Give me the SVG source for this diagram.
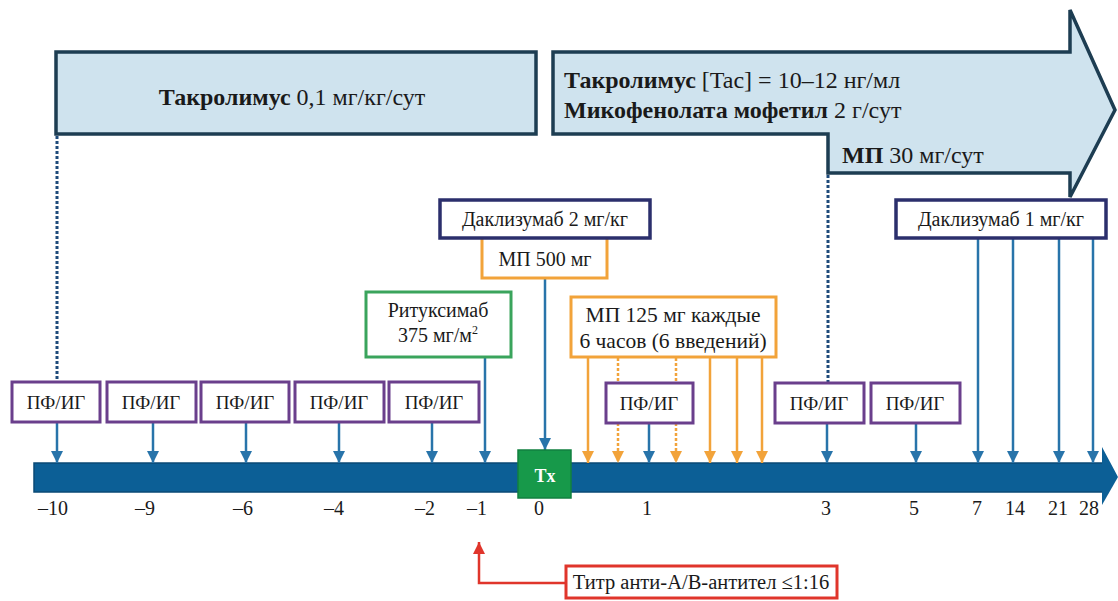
<svg xmlns="http://www.w3.org/2000/svg" width="1118" height="601" viewBox="0 0 1118 601">
<defs>
<style>
.t{font-family:"Liberation Serif","Times New Roman",serif;font-size:20px;fill:#1a1a1a}
.c{text-anchor:middle}
.b{font-weight:bold}
.lg{font-size:24px}
.pft{font-size:19px}
.big{fill:#cfe3ee;stroke:#1d3d52;stroke-width:3.5}
.pf{fill:#fff;stroke:#6a3f8c;stroke-width:3}
.dac{fill:#fff;stroke:#2b2f6c;stroke-width:3.5}
.or{fill:#fff;stroke:#f2a33a;stroke-width:3}
.blue{stroke:#2874aa;stroke-width:2.5;fill:none}
.orl{stroke:#f2a33a;stroke-width:2.5;fill:none}
.dash{stroke-dasharray:3 2}
.dot{stroke:#1e4a7a;stroke-width:3;stroke-dasharray:3 2;fill:none}
</style>
<marker id="ab" viewBox="0 0 10 10" refX="10" refY="5" markerWidth="12" markerHeight="12" markerUnits="userSpaceOnUse" orient="auto"><path d="M0,0 L10,5 L0,10 z" fill="#2874aa"/></marker>
<marker id="ao" viewBox="0 0 10 10" refX="10" refY="5" markerWidth="12" markerHeight="12" markerUnits="userSpaceOnUse" orient="auto"><path d="M0,0 L10,5 L0,10 z" fill="#f2a33a"/></marker>
<marker id="ar" viewBox="0 0 10 10" refX="10" refY="5" markerWidth="12" markerHeight="12" markerUnits="userSpaceOnUse" orient="auto"><path d="M0,0 L10,5 L0,10 z" fill="#e0352b"/></marker>
</defs>
<rect width="1118" height="601" fill="#fff"/>

<g id="tacro-left">
<rect class="big" x="56" y="52" width="480" height="82"/>
<text class="t c lg" x="292" y="105"><tspan class="b">Такролимус</tspan> 0,1 мг/кг/сут</text>
</g>

<g id="tacro-right">
<path class="big" d="M553,52 H1070 V10 L1115,110 L1070,197 V173 H828 V134 H553 Z"/>
<text class="t lg" x="564" y="88"><tspan class="b">Такролимус</tspan> [Tac] = 10–12 нг/мл</text>
<text class="t lg" x="564" y="118"><tspan class="b">Микофенолата мофетил</tspan> 2 г/сут</text>
<text class="t lg" x="842" y="163"><tspan class="b">МП</tspan> 30 мг/сут</text>
</g>

<g id="timeline">
<rect x="34" y="463" width="1070" height="29" fill="#0c5f96" stroke="#0a4a76" stroke-width="1.5"/>
<polygon points="1102,447 1118,477 1102,505" fill="#0c5f96"/>
</g>

<g id="connectors">
<line class="dot" x1="57" y1="136" x2="57" y2="381"/>
<line class="dot" x1="828" y1="175" x2="828" y2="382"/>
<line class="blue" x1="57" y1="422" x2="57" y2="463" marker-end="url(#ab)"/>
<line class="blue" x1="153" y1="422" x2="153" y2="463" marker-end="url(#ab)"/>
<line class="blue" x1="246" y1="422" x2="246" y2="463" marker-end="url(#ab)"/>
<line class="blue" x1="339" y1="422" x2="339" y2="463" marker-end="url(#ab)"/>
<line class="blue" x1="432" y1="422" x2="432" y2="463" marker-end="url(#ab)"/>
<line class="blue" x1="485" y1="357" x2="485" y2="463" marker-end="url(#ab)"/>
<line class="blue" x1="545" y1="278" x2="545" y2="450" marker-end="url(#ab)"/>
<line class="blue" x1="649" y1="423" x2="649" y2="463" marker-end="url(#ab)"/>
<line class="blue" x1="827" y1="423" x2="827" y2="463" marker-end="url(#ab)"/>
<line class="blue" x1="916" y1="423" x2="916" y2="463" marker-end="url(#ab)"/>
<line class="blue" x1="978" y1="238" x2="978" y2="463" marker-end="url(#ab)"/>
<line class="blue" x1="1013" y1="238" x2="1013" y2="463" marker-end="url(#ab)"/>
<line class="blue" x1="1059" y1="238" x2="1059" y2="463" marker-end="url(#ab)"/>
<line class="blue" x1="1093" y1="238" x2="1093" y2="463" marker-end="url(#ab)"/>
<line class="orl" x1="588" y1="358" x2="588" y2="463" marker-end="url(#ao)"/>
<line class="orl dash" x1="618" y1="358" x2="618" y2="463" marker-end="url(#ao)"/>
<line class="orl dash" x1="676" y1="358" x2="676" y2="463" marker-end="url(#ao)"/>
<line class="orl" x1="710" y1="358" x2="710" y2="463" marker-end="url(#ao)"/>
<line class="orl" x1="737" y1="358" x2="737" y2="463" marker-end="url(#ao)"/>
<line class="orl" x1="762" y1="358" x2="762" y2="463" marker-end="url(#ao)"/>
<path d="M566,583 H479 V542" fill="none" stroke="#e0352b" stroke-width="2.5" marker-end="url(#ar)"/>
</g>

<g id="tx">
<rect x="518" y="450" width="53" height="48" fill="#17994a" stroke="#128040" stroke-width="1.5"/>
<text class="t c b" x="545" y="482" style="fill:#fff;font-size:18px">Tx</text>
</g>

<g id="mp500">
<rect class="or" x="482" y="236" width="125" height="42"/>
<text class="t c" x="545" y="266">МП 500 мг</text>
</g>
<g id="daclizumab2">
<rect class="dac" x="440" y="200" width="210" height="38"/>
<text class="t c" x="545" y="226">Даклизумаб 2 мг/кг</text>
</g>
<g id="daclizumab1">
<rect class="dac" x="896" y="200" width="210" height="38"/>
<text class="t c" x="1001" y="226">Даклизумаб 1 мг/кг</text>
</g>
<g id="rituximab">
<rect x="366" y="292" width="145" height="65" fill="#fff" stroke="#3aa45c" stroke-width="3"/>
<text class="t c" x="438" y="317">Ритуксимаб</text>
<text class="t c" x="438" y="342">375 мг/м<tspan dy="-8" style="font-size:12px">2</tspan></text>
</g>
<g id="mp125">
<rect class="or" x="571" y="297" width="205" height="60"/>
<text class="t c" x="673" y="322" style="font-size:21.5px">МП 125 мг каждые</text>
<text class="t c" x="673" y="348" style="font-size:21.5px">6 часов (6 введений)</text>
</g>

<g id="pf1"><rect class="pf" x="12" y="382" width="88" height="40"/><text class="t c pft" x="56" y="409">ПФ/ИГ</text></g>
<g id="pf2"><rect class="pf" x="107" y="382" width="89" height="40"/><text class="t c pft" x="151" y="409">ПФ/ИГ</text></g>
<g id="pf3"><rect class="pf" x="201" y="382" width="88" height="40"/><text class="t c pft" x="245" y="409">ПФ/ИГ</text></g>
<g id="pf4"><rect class="pf" x="295" y="382" width="89" height="40"/><text class="t c pft" x="339" y="409">ПФ/ИГ</text></g>
<g id="pf5"><rect class="pf" x="389" y="382" width="90" height="40"/><text class="t c pft" x="434" y="409">ПФ/ИГ</text></g>
<g id="pf6"><rect class="pf" x="606" y="383" width="87" height="40"/><text class="t c pft" x="649" y="410">ПФ/ИГ</text></g>
<g id="pf7"><rect class="pf" x="775" y="383" width="89" height="40"/><text class="t c pft" x="819" y="410">ПФ/ИГ</text></g>
<g id="pf8"><rect class="pf" x="871" y="383" width="89" height="40"/><text class="t c pft" x="915" y="410">ПФ/ИГ</text></g>

<g id="labels">
<text class="t c" x="53" y="515">–10</text>
<text class="t c" x="145" y="515">–9</text>
<text class="t c" x="243" y="515">–6</text>
<text class="t c" x="334" y="515">–4</text>
<text class="t c" x="425" y="515">–2</text>
<text class="t c" x="477" y="515">–1</text>
<text class="t c" x="539" y="515">0</text>
<text class="t c" x="647" y="515">1</text>
<text class="t c" x="826" y="515">3</text>
<text class="t c" x="914" y="515">5</text>
<text class="t c" x="977" y="515">7</text>
<text class="t c" x="1015" y="515">14</text>
<text class="t c" x="1058" y="515">21</text>
<text class="t c" x="1089" y="515">28</text>
</g>

<g id="titer">
<rect x="566" y="566" width="271" height="32" fill="#fff" stroke="#e0352b" stroke-width="3"/>
<text class="t c" x="701" y="589" style="font-size:20.5px">Титр анти-A/B-антител ≤1:16</text>
</g>
</svg>
